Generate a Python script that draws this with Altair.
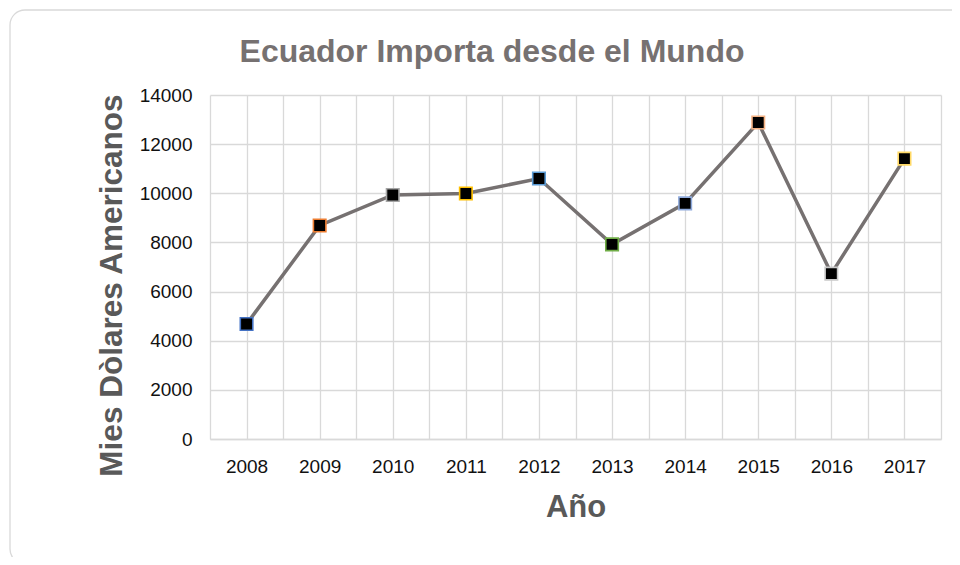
import altair as alt
import pandas as pd

years = [2008, 2009, 2010, 2011, 2012, 2013, 2014, 2015, 2016, 2017]
values = [4680, 8690, 9930, 9990, 10600, 7920, 9590, 12880, 6730, 11410]
marker_colors = ["#4472C4", "#ED7D31", "#A5A5A5", "#FFC000", "#5B9BD5",
                 "#70AD47", "#8FAADC", "#F4B183", "#C9C9C9", "#FFD966"]
y_ticks = [0, 2000, 4000, 6000, 8000, 10000, 12000, 14000]
x_grid = [2007.5, 2008, 2008.5, 2009, 2009.5, 2010, 2010.5, 2011, 2011.5,
          2012, 2012.5, 2013, 2013.5, 2014, 2014.5, 2015, 2015.5, 2016,
          2016.5, 2017, 2017.5]

TITLE = "Ecuador Importa desde el Mundo"
X_TITLE = "Año"
Y_TITLE = "Mies Dòlares Americanos"

df = pd.DataFrame({"year": years, "value": values, "color": marker_colors})

FONT = "Liberation Sans"
GRID = "#d9d9d9"

x_axis = alt.Axis(
    values=x_grid,
    labelExpr="(datum.value % 1 == 0) ? toString(datum.value) : ''",
    labelOverlap=False, labelFlush=False, labelBound=False,
    ticks=False, labelPadding=33, labelBaseline="alphabetic",
    labelFont=FONT, labelFontSize=19, labelColor="#111111",
    domainColor=GRID, domainWidth=1.3,
    grid=True, gridColor=GRID, gridWidth=1.3,
    title=X_TITLE, titleFont=FONT, titleFontSize=31, titleFontWeight="bold",
    titleColor="#595959", titleBaseline="alphabetic", titleY=77,
)
y_axis = alt.Axis(
    values=y_ticks, format="d",
    ticks=False, domain=False, labelPadding=18,
    labelFont=FONT, labelFontSize=19, labelColor="#111111",
    grid=True, gridColor=GRID, gridWidth=1.3,
    title=Y_TITLE, titleFont=FONT, titleFontSize=31.5, titleFontWeight="bold",
    titleColor="#595959", titleAngle=270, titleAlign="center",
    titleBaseline="alphabetic", titleX=-89, titleY=190,
)

x_scale = alt.Scale(domain=[2007.5, 2017.5], nice=False, zero=False)
y_scale = alt.Scale(domain=[0, 14000], nice=False)

frame = alt.Chart(pd.DataFrame({"k": [0]})).mark_rect(
    fillOpacity=0, stroke=GRID, strokeWidth=1.3, cornerRadius=15
).encode(
    x=alt.value(-200), x2=alt.value(780), y=alt.value(-85), y2=alt.value(469)
)

line = alt.Chart(df).mark_line(color="#767171", strokeWidth=3.5).encode(
    x=alt.X("year:Q", scale=x_scale, axis=x_axis),
    y=alt.Y("value:Q", scale=y_scale, axis=y_axis),
)

points = alt.Chart(df).mark_point(
    shape="square", filled=False, size=156, fill="black", fillOpacity=1,
    strokeWidth=1.6, opacity=1
).encode(
    x=alt.X("year:Q", scale=x_scale, axis=x_axis),
    y=alt.Y("value:Q", scale=y_scale, axis=y_axis),
    stroke=alt.Stroke("color:N", scale=None),
)

title = alt.Chart(pd.DataFrame({"t": [TITLE]})).mark_text(
    font=FONT, fontSize=32, fontWeight="bold", color="#767171",
    align="center", baseline="alphabetic"
).encode(text="t:N", x=alt.value(282), y=alt.value(-33))

chart = alt.layer(frame, line, points, title).properties(
    width=731, height=344,
    autosize=alt.AutoSizeParams(type="none"),
    padding={"left": 202, "top": 87, "right": 11, "bottom": 118},
    background="white",
).configure_view(stroke=None)

chart.save("out.html", embed_options={"renderer": "svg", "actions": False})
